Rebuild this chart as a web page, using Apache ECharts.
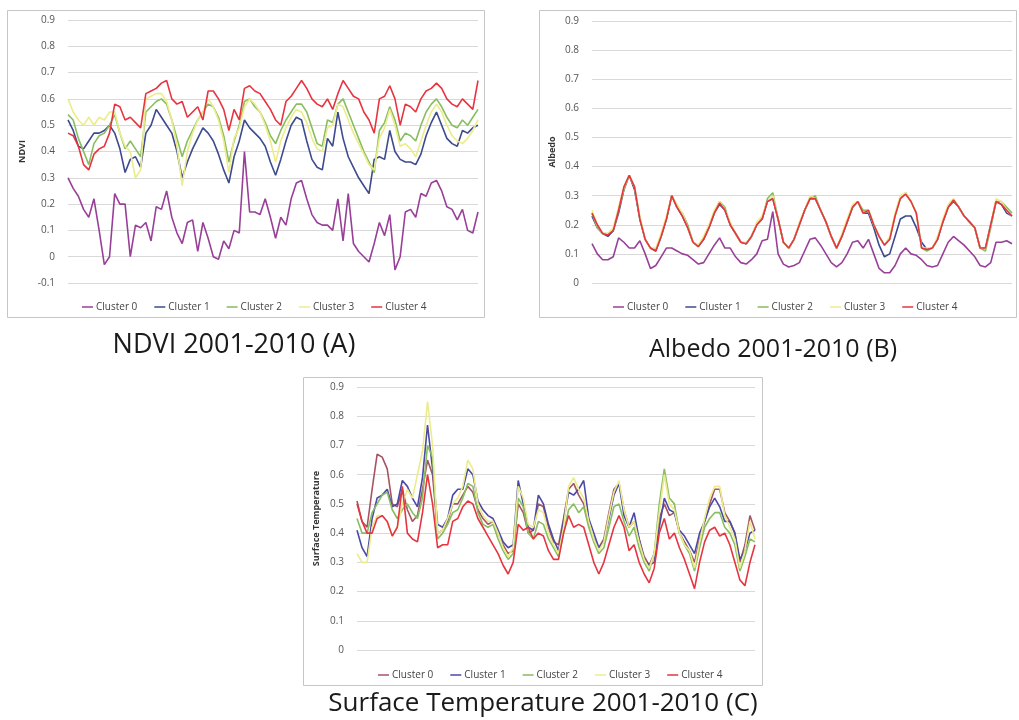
<!DOCTYPE html>
<html>
<head>
<meta charset="utf-8">
<title>NDVI, Albedo and Surface Temperature 2001-2010</title>
<script src="https://cdn.jsdelivr.net/npm/echarts@6.0.0/dist/echarts.min.js"></script>
<style>
  html, body { margin: 0; padding: 0; background: #ffffff; }
  #chart { width: 1019px; height: 720px; }
</style>
</head>
<body>
<div id="chart"></div>
<script>
// Cluster names shared by the three panels
const clusterNames = ['Cluster 0', 'Cluster 1', 'Cluster 2', 'Cluster 3', 'Cluster 4'];

// Y axis ticks
const ndviTicks = { min: -0.1, max: 0.9, step: 0.1 };
const albedoTicks = { min: 0, max: 0.9, step: 0.1 };
const lstTicks = { min: 0, max: 0.9, step: 0.1 };

// ---------- NDVI 2001-2010 ----------
const ndviCluster0 = [
  0.30, 0.26, 0.23, 0.18, 0.15, 0.22, 0.10, -0.03, 0.00, 0.24,
  0.20, 0.20, 0.00, 0.12, 0.11, 0.13, 0.06, 0.19, 0.18, 0.25,
  0.15, 0.09, 0.05, 0.13, 0.14, 0.02, 0.13, 0.07, 0.00, -0.01,
  0.06, 0.03, 0.10, 0.09, 0.40, 0.17, 0.17, 0.16, 0.22, 0.15,
  0.07, 0.15, 0.12, 0.22, 0.28, 0.29, 0.22, 0.16, 0.13, 0.12,
  0.12, 0.10, 0.22, 0.06, 0.24, 0.05, 0.02, 0.00, -0.02, 0.05,
  0.13, 0.08, 0.16, -0.05, 0.00, 0.17, 0.18, 0.15, 0.24, 0.23,
  0.28, 0.29, 0.25, 0.19, 0.18, 0.14, 0.18, 0.10, 0.09, 0.17
];
const ndviCluster1 = [
  0.52, 0.48, 0.42, 0.41, 0.44, 0.47, 0.47, 0.48, 0.50, 0.47,
  0.41, 0.32, 0.37, 0.38, 0.34, 0.47, 0.50, 0.56, 0.53, 0.50,
  0.47, 0.40, 0.30, 0.36, 0.41, 0.45, 0.49, 0.47, 0.44, 0.39,
  0.33, 0.28, 0.38, 0.44, 0.52, 0.49, 0.47, 0.45, 0.42, 0.36,
  0.31, 0.37, 0.44, 0.50, 0.53, 0.52, 0.44, 0.37, 0.34, 0.33,
  0.45, 0.42, 0.55, 0.45, 0.38, 0.34, 0.30, 0.27, 0.24, 0.37,
  0.38, 0.37, 0.48, 0.40, 0.37, 0.36, 0.36, 0.35, 0.39, 0.46,
  0.51, 0.55, 0.50, 0.45, 0.43, 0.42, 0.48, 0.47, 0.49, 0.50
];
const ndviCluster2 = [
  0.54, 0.52, 0.45, 0.40, 0.35, 0.43, 0.46, 0.47, 0.50, 0.54,
  0.47, 0.41, 0.44, 0.41, 0.38, 0.55, 0.57, 0.59, 0.60, 0.58,
  0.52, 0.45, 0.38, 0.44, 0.48, 0.52, 0.55, 0.58, 0.57, 0.53,
  0.46, 0.36, 0.44, 0.50, 0.59, 0.60, 0.57, 0.55, 0.51, 0.46,
  0.43, 0.48, 0.52, 0.55, 0.58, 0.58, 0.55, 0.49, 0.43, 0.42,
  0.52, 0.51, 0.58, 0.60, 0.55, 0.50, 0.45, 0.40, 0.36, 0.32,
  0.48, 0.51, 0.57, 0.52, 0.44, 0.47, 0.46, 0.44, 0.50, 0.55,
  0.58, 0.60, 0.57, 0.53, 0.50, 0.49, 0.52, 0.50, 0.53, 0.56
];
const ndviCluster3 = [
  0.60, 0.55, 0.52, 0.50, 0.53, 0.50, 0.53, 0.52, 0.55, 0.55,
  0.47, 0.42, 0.40, 0.30, 0.33, 0.60, 0.61, 0.62, 0.62, 0.59,
  0.52, 0.42, 0.27, 0.40, 0.47, 0.52, 0.55, 0.60, 0.57, 0.52,
  0.44, 0.32, 0.45, 0.49, 0.57, 0.60, 0.58, 0.55, 0.50, 0.44,
  0.36, 0.44, 0.49, 0.53, 0.56, 0.55, 0.51, 0.45, 0.41, 0.40,
  0.49, 0.50, 0.58, 0.57, 0.52, 0.47, 0.43, 0.39, 0.35, 0.33,
  0.45, 0.49, 0.56, 0.50, 0.42, 0.43, 0.41, 0.38, 0.44, 0.50,
  0.55, 0.58, 0.55, 0.50, 0.46, 0.44, 0.43, 0.45, 0.48, 0.52
];
const ndviCluster4 = [
  0.47, 0.46, 0.42, 0.35, 0.33, 0.39, 0.41, 0.42, 0.47, 0.58,
  0.57, 0.52, 0.53, 0.51, 0.49, 0.62, 0.63, 0.64, 0.66, 0.67,
  0.60, 0.58, 0.59, 0.53, 0.55, 0.57, 0.52, 0.63, 0.63, 0.60,
  0.56, 0.48, 0.56, 0.52, 0.64, 0.65, 0.63, 0.62, 0.59, 0.56,
  0.52, 0.50, 0.59, 0.61, 0.64, 0.67, 0.64, 0.60, 0.58, 0.57,
  0.60, 0.56, 0.62, 0.67, 0.64, 0.61, 0.60, 0.55, 0.52, 0.47,
  0.60, 0.61, 0.65, 0.60, 0.50, 0.58, 0.57, 0.55, 0.60, 0.63,
  0.64, 0.66, 0.64, 0.60, 0.58, 0.57, 0.60, 0.58, 0.56, 0.67
];

// ---------- Albedo 2001-2010 ----------
const albedoCluster0 = [
  0.135, 0.10, 0.08, 0.08, 0.09, 0.155, 0.14, 0.12, 0.12, 0.145,
  0.10, 0.05, 0.06, 0.09, 0.12, 0.12, 0.11, 0.10, 0.095, 0.08,
  0.065, 0.07, 0.10, 0.13, 0.155, 0.12, 0.12, 0.09, 0.07, 0.065,
  0.08, 0.10, 0.145, 0.15, 0.245, 0.10, 0.065, 0.055, 0.06, 0.07,
  0.11, 0.15, 0.155, 0.13, 0.10, 0.07, 0.055, 0.07, 0.10, 0.14,
  0.145, 0.12, 0.15, 0.10, 0.05, 0.035, 0.035, 0.06, 0.10, 0.12,
  0.10, 0.095, 0.08, 0.06, 0.055, 0.06, 0.10, 0.14, 0.16, 0.145,
  0.13, 0.11, 0.09, 0.06, 0.055, 0.07, 0.14, 0.14, 0.145, 0.135
];
const albedoCluster1 = [
  0.23, 0.19, 0.17, 0.16, 0.18, 0.24, 0.32, 0.37, 0.32, 0.22,
  0.15, 0.12, 0.11, 0.16, 0.22, 0.30, 0.26, 0.23, 0.19, 0.14,
  0.125, 0.15, 0.19, 0.24, 0.27, 0.25, 0.20, 0.17, 0.14, 0.135,
  0.16, 0.20, 0.22, 0.28, 0.29, 0.22, 0.14, 0.12, 0.15, 0.20,
  0.25, 0.29, 0.29, 0.25, 0.21, 0.16, 0.12, 0.16, 0.21, 0.26,
  0.28, 0.24, 0.24, 0.19, 0.13, 0.09, 0.10, 0.16, 0.22, 0.23,
  0.23, 0.19, 0.14, 0.115, 0.12, 0.15, 0.21, 0.26, 0.28, 0.26,
  0.23, 0.21, 0.19, 0.12, 0.12, 0.20, 0.28, 0.27, 0.24, 0.23
];
const albedoCluster2 = [
  0.24, 0.19, 0.17, 0.17, 0.18, 0.25, 0.32, 0.37, 0.33, 0.22,
  0.15, 0.12, 0.115, 0.16, 0.22, 0.30, 0.26, 0.24, 0.20, 0.14,
  0.13, 0.15, 0.19, 0.24, 0.28, 0.26, 0.20, 0.17, 0.14, 0.135,
  0.16, 0.20, 0.22, 0.29, 0.31, 0.22, 0.14, 0.12, 0.15, 0.20,
  0.25, 0.29, 0.30, 0.25, 0.21, 0.16, 0.12, 0.16, 0.21, 0.26,
  0.28, 0.25, 0.25, 0.20, 0.16, 0.13, 0.15, 0.23, 0.29, 0.31,
  0.28, 0.24, 0.12, 0.11, 0.12, 0.15, 0.21, 0.26, 0.285, 0.26,
  0.23, 0.21, 0.19, 0.12, 0.11, 0.19, 0.28, 0.28, 0.26, 0.24
];
const albedoCluster3 = [
  0.25, 0.20, 0.17, 0.17, 0.19, 0.26, 0.33, 0.37, 0.33, 0.23,
  0.15, 0.12, 0.12, 0.17, 0.23, 0.30, 0.27, 0.24, 0.19, 0.14,
  0.13, 0.16, 0.20, 0.25, 0.28, 0.25, 0.21, 0.17, 0.14, 0.14,
  0.16, 0.21, 0.23, 0.28, 0.30, 0.22, 0.14, 0.12, 0.15, 0.21,
  0.25, 0.30, 0.29, 0.25, 0.21, 0.16, 0.12, 0.17, 0.22, 0.27,
  0.28, 0.24, 0.25, 0.20, 0.16, 0.13, 0.16, 0.24, 0.30, 0.31,
  0.28, 0.24, 0.12, 0.12, 0.12, 0.16, 0.22, 0.27, 0.29, 0.26,
  0.23, 0.21, 0.19, 0.12, 0.12, 0.20, 0.29, 0.28, 0.25, 0.23
];
const albedoCluster4 = [
  0.24, 0.20, 0.17, 0.165, 0.18, 0.25, 0.33, 0.37, 0.33, 0.22,
  0.15, 0.12, 0.11, 0.16, 0.22, 0.30, 0.26, 0.23, 0.19, 0.14,
  0.125, 0.15, 0.19, 0.24, 0.275, 0.25, 0.20, 0.17, 0.14, 0.135,
  0.16, 0.20, 0.22, 0.28, 0.29, 0.22, 0.14, 0.12, 0.15, 0.20,
  0.25, 0.29, 0.29, 0.25, 0.21, 0.16, 0.12, 0.16, 0.21, 0.26,
  0.28, 0.24, 0.25, 0.20, 0.16, 0.13, 0.15, 0.23, 0.29, 0.305,
  0.28, 0.24, 0.12, 0.115, 0.12, 0.15, 0.21, 0.26, 0.285, 0.26,
  0.23, 0.21, 0.19, 0.12, 0.12, 0.20, 0.28, 0.27, 0.25, 0.23
];

// ---------- Surface Temperature 2001-2010 ----------
const lstCluster0 = [
  0.51, 0.44, 0.42, 0.55, 0.67, 0.66, 0.62, 0.50, 0.49, 0.55,
  0.48, 0.44, 0.46, 0.55, 0.65, 0.60, 0.40, 0.41, 0.44, 0.50,
  0.50, 0.53, 0.56, 0.54, 0.48, 0.45, 0.43, 0.44, 0.40, 0.36,
  0.33, 0.34, 0.50, 0.47, 0.40, 0.41, 0.50, 0.49, 0.42, 0.37,
  0.36, 0.45, 0.55, 0.57, 0.53, 0.50, 0.43, 0.38, 0.35, 0.38,
  0.47, 0.55, 0.57, 0.48, 0.42, 0.44, 0.38, 0.32, 0.29, 0.33,
  0.45, 0.50, 0.46, 0.47, 0.40, 0.37, 0.34, 0.30, 0.38, 0.44,
  0.50, 0.55, 0.55, 0.47, 0.44, 0.40, 0.30, 0.36, 0.46, 0.41
];
const lstCluster1 = [
  0.41, 0.35, 0.32, 0.45, 0.52, 0.53, 0.55, 0.49, 0.50, 0.58,
  0.56, 0.52, 0.49, 0.59, 0.77, 0.62, 0.43, 0.42, 0.45, 0.53,
  0.55, 0.55, 0.62, 0.60, 0.51, 0.48, 0.46, 0.45, 0.41, 0.37,
  0.35, 0.36, 0.58, 0.50, 0.42, 0.41, 0.53, 0.50, 0.43, 0.38,
  0.34, 0.44, 0.54, 0.53, 0.55, 0.58, 0.45, 0.40, 0.35, 0.37,
  0.45, 0.53, 0.57, 0.46, 0.42, 0.47, 0.38, 0.31, 0.29, 0.30,
  0.42, 0.52, 0.48, 0.47, 0.41, 0.39, 0.36, 0.33, 0.40, 0.44,
  0.49, 0.52, 0.49, 0.44, 0.44, 0.40, 0.31, 0.34, 0.40, 0.41
];
const lstCluster2 = [
  0.45, 0.40, 0.40, 0.47, 0.50, 0.53, 0.54, 0.48, 0.45, 0.48,
  0.50, 0.47, 0.45, 0.52, 0.70, 0.66, 0.38, 0.40, 0.43, 0.47,
  0.48, 0.52, 0.57, 0.56, 0.47, 0.43, 0.42, 0.43, 0.38, 0.34,
  0.31, 0.33, 0.52, 0.49, 0.40, 0.38, 0.44, 0.43, 0.38, 0.35,
  0.32, 0.40, 0.48, 0.50, 0.47, 0.49, 0.42, 0.37, 0.33, 0.35,
  0.42, 0.49, 0.50, 0.44, 0.39, 0.42, 0.35, 0.30, 0.27, 0.33,
  0.50, 0.62, 0.52, 0.50, 0.40, 0.36, 0.33, 0.27, 0.35, 0.42,
  0.45, 0.47, 0.47, 0.42, 0.40, 0.36, 0.27, 0.32, 0.38, 0.37
];
const lstCluster3 = [
  0.33, 0.30, 0.30, 0.42, 0.46, 0.46, 0.44, 0.39, 0.42, 0.50,
  0.55, 0.52, 0.60, 0.68, 0.85, 0.70, 0.40, 0.41, 0.45, 0.50,
  0.52, 0.56, 0.65, 0.62, 0.50, 0.46, 0.44, 0.44, 0.40, 0.35,
  0.32, 0.35, 0.56, 0.52, 0.43, 0.42, 0.48, 0.47, 0.40, 0.36,
  0.33, 0.42, 0.56, 0.59, 0.55, 0.52, 0.44, 0.38, 0.34, 0.37,
  0.46, 0.54, 0.58, 0.48, 0.42, 0.44, 0.37, 0.31, 0.28, 0.33,
  0.47, 0.60, 0.50, 0.48, 0.40, 0.36, 0.34, 0.28, 0.37, 0.45,
  0.52, 0.56, 0.56, 0.46, 0.42, 0.38, 0.28, 0.34, 0.44, 0.38
];
const lstCluster4 = [
  0.50, 0.44, 0.40, 0.40, 0.45, 0.46, 0.44, 0.39, 0.42, 0.56,
  0.40, 0.38, 0.37, 0.47, 0.60, 0.50, 0.35, 0.36, 0.36, 0.44,
  0.45, 0.49, 0.51, 0.50, 0.45, 0.42, 0.39, 0.36, 0.33, 0.29,
  0.26, 0.30, 0.43, 0.41, 0.42, 0.38, 0.40, 0.39, 0.34, 0.31,
  0.31, 0.40, 0.46, 0.42, 0.43, 0.42, 0.36, 0.30, 0.26, 0.30,
  0.36, 0.42, 0.46, 0.42, 0.34, 0.36, 0.30, 0.26, 0.23, 0.28,
  0.40, 0.45, 0.38, 0.40, 0.35, 0.31, 0.26, 0.21, 0.30, 0.37,
  0.41, 0.42, 0.39, 0.40, 0.36, 0.30, 0.24, 0.22, 0.30, 0.36
];

// Composite periods along the (unlabelled) time axis
const periods = ndviCluster0.map((_, i) => String(i + 1));

// Line colours
const colorsAB = ['#983f98', '#3d4a8e', '#88bd60', '#ecec8c', '#e63540'];
const colorsC = ['#a65462', '#4b4aa6', '#88bd60', '#ecec8c', '#e63540'];

const FONT = 'Open Sans, Liberation Sans, sans-serif';

// Plot areas and panel frames (pixels)
const grids = [
  { left: 68, top: 20, width: 410, height: 263 },
  { left: 592, top: 21, width: 420, height: 262 },
  { left: 357, top: 387, width: 398, height: 263 }
];
const frames = [
  { x: 7, y: 10, w: 477, h: 307 },
  { x: 539, y: 10, w: 477, h: 307 },
  { x: 303, y: 377, w: 459, h: 308 }
];

function makeSeries(panel, datasets, colors) {
  return datasets.map((d, k) => ({
    type: 'line',
    name: clusterNames[k],
    xAxisIndex: panel,
    yAxisIndex: panel,
    data: d,
    symbol: 'none',
    showSymbol: false,
    smooth: false,
    silent: true,
    lineStyle: { width: 1.6, color: colors[k] },
    itemStyle: { color: colors[k] },
    z: 2 + k
  }));
}

function makeYAxis(panel, ticks, name, nameGap) {
  return {
    type: 'value',
    gridIndex: panel,
    min: ticks.min,
    max: ticks.max,
    interval: ticks.step,
    name: name,
    nameLocation: 'middle',
    nameGap: nameGap,
    nameTextStyle: { fontFamily: FONT, fontSize: 9, fontWeight: 'bold', color: '#333' },
    axisLine: { show: false },
    axisTick: { show: false },
    axisLabel: { fontFamily: FONT, fontSize: 10, color: '#555', margin: 13 },
    splitLine: { show: true, lineStyle: { color: '#d9d9d9', width: 1 } }
  };
}

function makeXAxis(panel) {
  return {
    type: 'category',
    gridIndex: panel,
    data: periods,
    boundaryGap: false,
    axisLine: { show: false },
    axisTick: { show: false },
    axisLabel: { show: false },
    splitLine: { show: false }
  };
}

function makeLegend(left, top, colors) {
  return {
    left: left,
    top: top,
    orient: 'horizontal',
    icon: 'rect',
    itemWidth: 11,
    itemHeight: 1.5,
    itemGap: 17,
    selectedMode: false,
    textStyle: { fontFamily: FONT, fontSize: 10, color: '#444', padding: [0, 0, 0, -2] },
    data: clusterNames.map((n, k) => ({ name: n, itemStyle: { color: colors[k] } }))
  };
}

const chart = echarts.init(document.getElementById('chart'), null, { renderer: 'canvas' });

chart.setOption({
  animation: false,
  backgroundColor: '#ffffff',
  grid: grids.map(g => Object.assign({ containLabel: false }, g)),
  xAxis: [makeXAxis(0), makeXAxis(1), makeXAxis(2)],
  yAxis: [
    makeYAxis(0, ndviTicks, 'NDVI', 41),
    makeYAxis(1, albedoTicks, 'Albedo', 35),
    makeYAxis(2, lstTicks, 'Surface Temperature', 36)
  ],
  legend: [
    makeLegend(77, 297, colorsAB),
    makeLegend(608, 297, colorsAB),
    makeLegend(373, 665, colorsC)
  ],
  series: [
    ...makeSeries(0, [ndviCluster0, ndviCluster1, ndviCluster2, ndviCluster3, ndviCluster4], colorsAB),
    ...makeSeries(1, [albedoCluster0, albedoCluster1, albedoCluster2, albedoCluster3, albedoCluster4], colorsAB),
    ...makeSeries(2, [lstCluster0, lstCluster1, lstCluster2, lstCluster3, lstCluster4], colorsC)
  ],
  graphic: [
    ...frames.map(f => ({
      type: 'rect',
      silent: true,
      z: 0,
      shape: { x: f.x + 0.5, y: f.y + 0.5, width: f.w, height: f.h },
      style: { fill: null, stroke: '#c6c6c6', lineWidth: 1 }
    })),
    {
      type: 'text', silent: true, x: 234, y: 345,
      style: { text: 'NDVI 2001-2010 (A)', fontFamily: FONT, fontSize: 27, fill: '#1a1a1a', align: 'center', verticalAlign: 'middle' }
    },
    {
      type: 'text', silent: true, x: 773, y: 350,
      style: { text: 'Albedo 2001-2010 (B)', fontFamily: FONT, fontSize: 25, fill: '#1a1a1a', align: 'center', verticalAlign: 'middle' }
    },
    {
      type: 'text', silent: true, x: 543, y: 704,
      style: { text: 'Surface Temperature 2001-2010 (C)', fontFamily: FONT, fontSize: 26, fill: '#1a1a1a', align: 'center', verticalAlign: 'middle' }
    }
  ]
});
</script>
</body>
</html>
